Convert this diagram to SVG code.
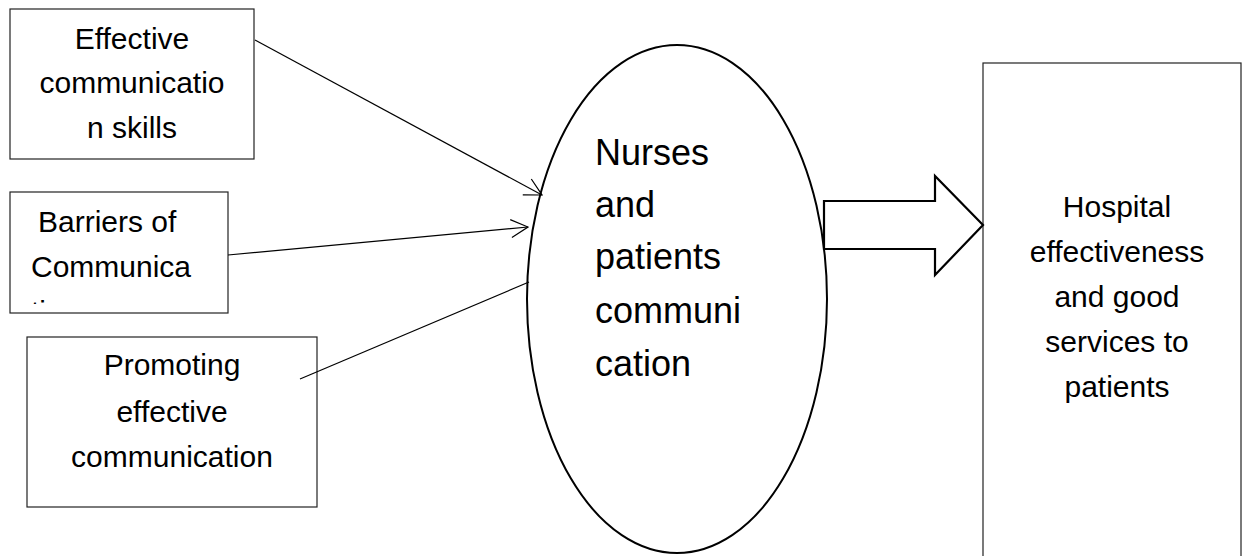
<svg xmlns="http://www.w3.org/2000/svg" width="1249" height="556" viewBox="0 0 1249 556">
<style>
.box{fill:#fff;stroke:#222;stroke-width:1.2}
.t{font-family:"Liberation Sans",Arial,sans-serif;font-size:30px;fill:#000}
.c{text-anchor:middle}
.big{font-size:36px}
.conn{stroke:#000;stroke-width:1.2;fill:none}
</style>
<defs>
<marker id="open" viewBox="0 0 20 20" refX="19" refY="10" markerWidth="20" markerHeight="20" markerUnits="userSpaceOnUse" orient="auto">
<path d="M2,1 L19,10 L2,19" fill="none" stroke="#000" stroke-width="1.2"/>
</marker>
<clipPath id="clip2"><rect x="10" y="192" width="218" height="112"/></clipPath>
</defs>
<rect width="1249" height="556" fill="#fff"/>
<g id="node-skills">
<rect class="box" x="10" y="9" width="244" height="150"/>
<text class="t c" x="132" y="49">Effective</text>
<text class="t c" x="132" y="93">communicatio</text>
<text class="t c" x="132" y="138">n skills</text>
</g>
<g id="node-barriers">
<rect class="box" x="10" y="192" width="218" height="121"/>
<g clip-path="url(#clip2)">
<text class="t" x="38" y="232">Barriers of</text>
<text class="t" x="31" y="277">Communica</text>
<text class="t" x="31" y="322">tion</text>
</g>
</g>
<g id="node-promoting">
<rect class="box" x="27" y="337" width="290" height="170"/>
<text class="t c" x="172" y="375">Promoting</text>
<text class="t c" x="172" y="422">effective</text>
<text class="t c" x="172" y="467">communication</text>
</g>
<g id="node-nurses">
<ellipse cx="677" cy="299" rx="150" ry="254" fill="#fff" stroke="#000" stroke-width="2"/>
<text class="t big" x="595" y="165">Nurses</text>
<text class="t big" x="595" y="217">and</text>
<text class="t big" x="595" y="269">patients</text>
<text class="t big" x="595" y="323">communi</text>
<text class="t big" x="595" y="376">cation</text>
</g>
<g id="node-hospital">
<rect class="box" x="983" y="63" width="258" height="500"/>
<text class="t c" x="1117" y="217">Hospital</text>
<text class="t c" x="1117" y="262">effectiveness</text>
<text class="t c" x="1117" y="307">and good</text>
<text class="t c" x="1117" y="352">services to</text>
<text class="t c" x="1117" y="397">patients</text>
</g>
<g id="connectors">
<line class="conn" x1="255" y1="40" x2="542" y2="195" marker-end="url(#open)"/>
<line class="conn" x1="228" y1="255" x2="528" y2="227" marker-end="url(#open)"/>
<line class="conn" x1="300" y1="379" x2="529" y2="282"/>
<polygon points="824,201 935,201 935,176 983,225 935,275 935,249 824,249" fill="#fff" stroke="#000" stroke-width="2.2" stroke-linejoin="miter"/>
</g>
</svg>
